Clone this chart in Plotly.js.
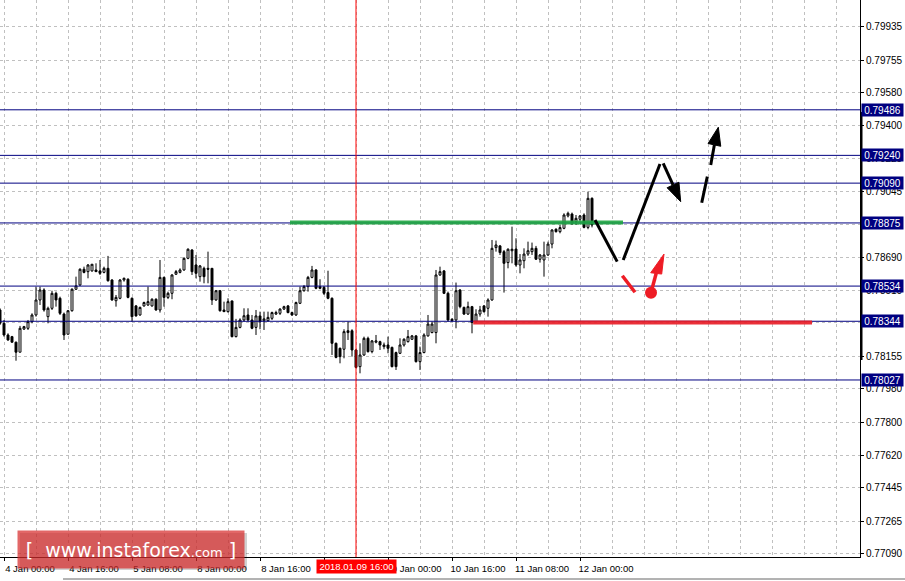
<!DOCTYPE html>
<html>
<head>
<meta charset="utf-8">
<script src="https://cdn.plot.ly/plotly-3.0.1.min.js"></script>
<style>html,body{margin:0;padding:0;background:#fff;}#chart{width:905px;height:581px;}</style>
</head>
<body>
<div id="chart"></div>
<script>
// ---- Data (hourly bars, index 0 = 4 Jan 00:00) ----
var openP = [0.78405,0.78333,0.78270,0.78261,0.78231,0.78177,0.78302,0.78306,0.78342,0.78378,
0.78459,0.78513,0.78369,0.78414,0.78495,0.78468,0.78383,0.78274,0.78401,0.78517,
0.78540,0.78625,0.78612,0.78616,0.78621,0.78616,0.78608,0.78630,0.78567,0.78455,
0.78468,0.78567,0.78571,0.78468,0.78427,0.78378,0.78427,0.78432,0.78427,0.78463,
0.78405,0.78581,0.78473,0.78495,0.78598,0.78608,0.78621,0.78684,0.78729,0.78648,
0.78585,0.78630,0.78630,0.78630,0.78459,0.78509,0.78405,0.78396,0.78454,0.78261,
0.78311,0.78351,0.78378,0.78351,0.78311,0.78373,0.78347,0.78347,0.78360,0.78383,
0.78387,0.78410,0.78427,0.78391,0.78378,0.78441,0.78509,0.78531,0.78581,0.78621,
0.78531,0.78527,0.78499,0.78468,0.78225,0.78198,0.78193,0.78293,0.78293,0.78189,
0.78099,0.78162,0.78252,0.78180,0.78231,0.78234,0.78207,0.78216,0.78203,0.78175,
0.78171,0.78216,0.78234,0.78247,0.78265,0.78126,0.78175,0.78265,0.78283,0.78283,
0.78594,0.78616,0.78495,0.78355,0.78351,0.78513,0.78419,0.78383,0.78423,0.78342,
0.78383,0.78427,0.78414,0.78459,0.78742,0.78751,0.78720,0.78661,0.78725,0.78734,
0.78648,0.78671,0.78707,0.78720,0.78738,0.78679,0.78675,0.78702,0.78761,0.78841,
0.78828,0.78846,0.78913,0.78923,0.78882,0.78895,0.78918,0.78851,0.79008];
var highP = [0.78414,0.78351,0.78279,0.78265,0.78234,0.78319,0.78319,0.78351,0.78387,0.78531,
0.78531,0.78522,0.78423,0.78509,0.78504,0.78477,0.78391,0.78405,0.78522,0.78585,
0.78630,0.78639,0.78653,0.78653,0.78657,0.78675,0.78639,0.78697,0.78571,0.78486,
0.78571,0.78580,0.78576,0.78473,0.78432,0.78423,0.78450,0.78531,0.78468,0.78468,
0.78675,0.78585,0.78504,0.78598,0.78621,0.78630,0.78689,0.78738,0.78733,0.78702,
0.78648,0.78639,0.78720,0.78630,0.78513,0.78513,0.78450,0.78468,0.78455,0.78357,
0.78360,0.78414,0.78414,0.78378,0.78405,0.78396,0.78396,0.78396,0.78396,0.78401,
0.78414,0.78428,0.78432,0.78396,0.78450,0.78531,0.78540,0.78589,0.78643,0.78625,
0.78571,0.78535,0.78617,0.78473,0.78229,0.78202,0.78301,0.78342,0.78301,0.78193,
0.78225,0.78261,0.78261,0.78243,0.78270,0.78239,0.78229,0.78261,0.78207,0.78180,
0.78252,0.78252,0.78297,0.78270,0.78270,0.78207,0.78279,0.78378,0.78342,0.78621,
0.78639,0.78621,0.78504,0.78360,0.78553,0.78517,0.78423,0.78450,0.78427,0.78409,
0.78427,0.78432,0.78468,0.78783,0.78780,0.78756,0.78729,0.78738,0.78855,0.78792,
0.78707,0.78738,0.78774,0.78769,0.78751,0.78707,0.78774,0.78774,0.78841,0.78846,
0.78864,0.78927,0.78936,0.78931,0.78918,0.78918,0.78927,0.79044,0.79013];
var lowP = [0.78324,0.78261,0.78239,0.78229,0.78131,0.78177,0.78297,0.78297,0.78333,0.78369,
0.78432,0.78396,0.78333,0.78405,0.78423,0.78378,0.78243,0.78274,0.78396,0.78513,
0.78535,0.78603,0.78576,0.78612,0.78612,0.78594,0.78603,0.78558,0.78455,0.78423,
0.78463,0.78558,0.78468,0.78342,0.78369,0.78374,0.78423,0.78427,0.78423,0.78401,
0.78391,0.78423,0.78464,0.78463,0.78594,0.78603,0.78617,0.78679,0.78594,0.78576,
0.78558,0.78549,0.78549,0.78432,0.78455,0.78396,0.78396,0.78391,0.78257,0.78257,
0.78306,0.78342,0.78342,0.78301,0.78270,0.78301,0.78297,0.78342,0.78351,0.78378,
0.78378,0.78405,0.78387,0.78373,0.78373,0.78437,0.78504,0.78504,0.78576,0.78517,
0.78517,0.78486,0.78463,0.78162,0.78144,0.78117,0.78144,0.78243,0.78153,0.78090,
0.78063,0.78157,0.78175,0.78171,0.78225,0.78189,0.78193,0.78171,0.78095,0.78081,
0.78167,0.78207,0.78229,0.78243,0.78121,0.78081,0.78171,0.78261,0.78279,0.78225,
0.78589,0.78491,0.78342,0.78342,0.78306,0.78414,0.78378,0.78378,0.78279,0.78337,
0.78369,0.78391,0.78369,0.78455,0.78720,0.78702,0.78499,0.78630,0.78657,0.78639,
0.78603,0.78630,0.78697,0.78702,0.78675,0.78661,0.78585,0.78697,0.78738,0.78823,
0.78819,0.78841,0.78905,0.78864,0.78864,0.78882,0.78846,0.78841,0.78851];
var closeP = [0.78333,0.78270,0.78243,0.78231,0.78177,0.78306,0.78315,0.78342,0.78378,0.78459,
0.78513,0.78405,0.78414,0.78495,0.78459,0.78387,0.78270,0.78401,0.78517,0.78535,
0.78625,0.78608,0.78648,0.78652,0.78612,0.78603,0.78630,0.78563,0.78459,0.78473,
0.78567,0.78576,0.78473,0.78369,0.78373,0.78419,0.78445,0.78450,0.78463,0.78405,
0.78581,0.78473,0.78495,0.78594,0.78612,0.78621,0.78684,0.78733,0.78612,0.78603,
0.78643,0.78585,0.78625,0.78459,0.78509,0.78401,0.78396,0.78450,0.78261,0.78311,
0.78351,0.78374,0.78351,0.78306,0.78373,0.78342,0.78357,0.78365,0.78391,0.78391,
0.78410,0.78423,0.78391,0.78378,0.78445,0.78509,0.78531,0.78581,0.78621,0.78522,
0.78522,0.78495,0.78468,0.78225,0.78149,0.78153,0.78288,0.78283,0.78189,0.78095,
0.78162,0.78252,0.78180,0.78238,0.78238,0.78216,0.78216,0.78198,0.78099,0.78099,
0.78216,0.78247,0.78261,0.78265,0.78126,0.78175,0.78270,0.78329,0.78329,0.78594,
0.78612,0.78495,0.78351,0.78347,0.78509,0.78423,0.78383,0.78423,0.78337,0.78383,
0.78405,0.78396,0.78459,0.78738,0.78756,0.78715,0.78657,0.78733,0.78733,0.78648,
0.78675,0.78707,0.78725,0.78738,0.78679,0.78702,0.78702,0.78761,0.78837,0.78828,
0.78850,0.78918,0.78927,0.78873,0.78900,0.78913,0.78851,0.79008,0.78864];
var firstBar = -1;

// tick labels fully hidden in the reference (under the level / date boxes) are left blank
var xTickVals = [0,16,32,48,64,80,96,112,128,144];
var xTickText = ['4 Jan 00:00','4 Jan 16:00','5 Jan 08:00','8 Jan 00:00','8 Jan 16:00','','10 Jan 00:00','10 Jan 16:00','11 Jan 08:00','12 Jan 00:00'];
var yTickVals = [0.79935,0.79755,0.79580,0.79400,0.79225,0.79045,0.78865,0.78690,0.78510,0.78335,0.78155,0.77980,0.77800,0.77620,0.77445,0.77265,0.77090];
var yTickText = ['0.79935','0.79755','0.79580','0.79400','0.79225','0.79045','','0.78690','0.78510','','0.78155','0.77980','0.77800','0.77620','0.77445','0.77265','0.77090'];
var levels = [0.79486,0.79240,0.79090,0.78875,0.78534,0.78344,0.78027];
var markerBar = 88, markerLabel = '2018.01.09 16:00';

// ---- drawing annotations (analyst sketch), in bar / price coordinates ----
var greenLevel = {x0:71.5, x1:154.75, y:0.78878};
var redLevel = {x0:117.3, x1:202, y:0.78337};
var blackSegs = [[147.75,0.78891,153.3,0.78666],[154.8,0.78675,164,0.79193],[164.8,0.79197,167.25,0.79080],
                 [174.43,0.78984,175.83,0.79125],[176.68,0.79188,177.6,0.79297]];
var blackHeads = [[[169.175,0.78990],[165.78,0.79065],[168.73,0.79095]],
                  [[178.58,0.79392],[176.01,0.79304],[179.19,0.79289]]];
var redSegs = [[154.58,0.78590,157.75,0.78501],[161.75,0.78498,163.05,0.78603]];
var redHeads = [[[165,0.78707],[161.675,0.78606],[164.425,0.78599]]];
var redDot = [161.75,0.78498];

var idx = [];
for (var i = 0; i < openP.length; i++) idx.push(firstBar + i);

var FONT = 'Liberation Sans, Arial, sans-serif';
var RED = '#ee1c25';

var shapes = [];
levels.forEach(function(v){
  shapes.push({type:'line',xref:'paper',x0:0,x1:1,yref:'y',y0:v,y1:v,line:{color:'#000080',width:1}});
});
shapes.push({type:'line',xref:'x',x0:markerBar,x1:markerBar,yref:'paper',y0:0,y1:1,line:{color:'#ff0000',width:1}});
shapes.push({type:'line',xref:'x',yref:'y',x0:greenLevel.x0,x1:greenLevel.x1,y0:greenLevel.y,y1:greenLevel.y,line:{color:'rgba(30,165,65,0.9)',width:4}});
shapes.push({type:'line',xref:'x',yref:'y',x0:redLevel.x0,x1:redLevel.x1,y0:redLevel.y,y1:redLevel.y,line:{color:'rgba(232,30,40,0.92)',width:4}});
blackSegs.forEach(function(s){
  shapes.push({type:'line',xref:'x',yref:'y',x0:s[0],y0:s[1],x1:s[2],y1:s[3],line:{color:'#000',width:3}});
});
function tri(p){return 'M '+p[0][0]+','+p[0][1]+' L '+p[1][0]+','+p[1][1]+' L '+p[2][0]+','+p[2][1]+' Z';}
blackHeads.forEach(function(h){
  shapes.push({type:'path',xref:'x',yref:'y',path:tri(h),fillcolor:'#000',line:{color:'#000',width:1}});
});
redSegs.forEach(function(s){
  shapes.push({type:'line',xref:'x',yref:'y',x0:s[0],y0:s[1],x1:s[2],y1:s[3],line:{color:RED,width:3.5}});
});
redHeads.forEach(function(h){
  shapes.push({type:'path',xref:'x',yref:'y',path:tri(h),fillcolor:RED,line:{color:RED,width:1}});
});
shapes.push({type:'circle',xref:'x',yref:'y',xsizemode:'pixel',ysizemode:'pixel',xanchor:redDot[0],yanchor:redDot[1],
  x0:-6,x1:6,y0:-6,y1:6,fillcolor:RED,line:{color:RED,width:0}});
// thick price-range bar on the axis
shapes.push({type:'rect',xref:'paper',xsizemode:'pixel',xanchor:1,x0:0,x1:2.5,yref:'y',y0:0.78135,y1:0.79474,fillcolor:'#000',line:{width:0}});
// logo shadow
shapes.push({type:'rect',xref:'paper',yref:'paper',xsizemode:'pixel',ysizemode:'pixel',xanchor:131/860,yanchor:8/557,
  x0:-111,x1:116,y0:-21,y1:16,fillcolor:'rgba(0,0,0,0.18)',line:{width:0}});
// window bottom border
shapes.push({type:'line',xref:'paper',yref:'paper',x0:63/860,x1:905/860,y0:-22/557,y1:-22/557,line:{color:'#666',width:1}});

var annotations = [];
levels.forEach(function(v){
  annotations.push({xref:'paper',x:1,xanchor:'left',xshift:1,yref:'y',y:v,yanchor:'middle',
    text:v.toFixed(5),showarrow:false,bgcolor:'#000080',width:41,height:12,borderpad:0,
    font:{family:FONT,size:10,color:'#fff'}});
});
annotations.push({xref:'x',x:markerBar,xanchor:'center',yref:'paper',y:0,yanchor:'top',yshift:-2,
  text:markerLabel,showarrow:false,bgcolor:'#ff0000',width:79,height:13,borderpad:0,
  font:{family:FONT,size:9.5,color:'#fff'}});
annotations.push({xref:'paper',x:131/860,xanchor:'center',yref:'paper',y:8/557,yanchor:'middle',
  text:'[\u00a0\u00a0www.instaforex<span style="font-size:13px">.com</span>\u00a0]',
  showarrow:false,bgcolor:'rgba(215,45,45,0.72)',width:226,height:37,borderpad:0,
  font:{family:'DejaVu Sans, sans-serif',size:19,color:'#fff'}});

var trace = {
  type:'candlestick', x:idx, open:openP, high:highP, low:lowP, close:closeP,
  increasing:{line:{color:'#000',width:1},fillcolor:'#ffffff'},
  decreasing:{line:{color:'#000',width:1},fillcolor:'#000000'},
  whiskerwidth:0, hoverinfo:'skip', showlegend:false
};

var layout = {
  width:905, height:581,
  margin:{l:0,r:45,t:0,b:24,pad:0},
  paper_bgcolor:'#ffffff', plot_bgcolor:'#ffffff',
  showlegend:false,
  xaxis:{
    range:[-1,214], rangeslider:{visible:false},
    tickmode:'array', tickvals:xTickVals, ticktext:xTickText,
    ticks:'outside', ticklen:3, tickcolor:'#000', ticklabelshift:26,
    tickfont:{family:FONT,size:9.5,color:'#000'},
    showgrid:true, gridcolor:'#c0c0c0', griddash:'3px,3px', gridwidth:1,
    minor:{tickmode:'linear',tick0:0,dtick:8,showgrid:true,gridcolor:'#c0c0c0',griddash:'3px,3px',ticks:''},
    showline:true, linecolor:'#000', linewidth:1, zeroline:false, fixedrange:true
  },
  yaxis:{
    side:'right', range:[0.77071,0.80079],
    tickmode:'array', tickvals:yTickVals, ticktext:yTickText,
    ticks:'outside', ticklen:3, tickcolor:'#000',
    tickfont:{family:FONT,size:10,color:'#000'},
    showgrid:true, gridcolor:'#c0c0c0', griddash:'3px,3px', gridwidth:1,
    showline:true, linecolor:'#000', linewidth:1, zeroline:false, fixedrange:true
  },
  shapes:shapes,
  annotations:annotations
};

Plotly.newPlot('chart',[trace],layout,{displayModeBar:false,staticPlot:true});
</script>
</body>
</html>
